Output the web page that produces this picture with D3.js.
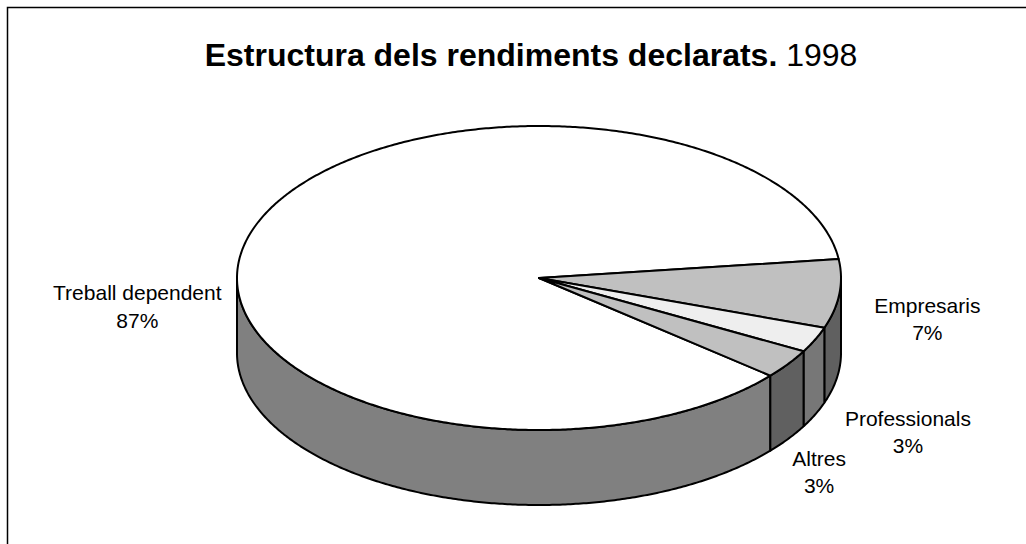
<!DOCTYPE html>
<html>
<head>
<meta charset="utf-8">
<script src="https://cdn.jsdelivr.net/npm/d3@7"></script>
<style>
  body { margin: 0; background: #fff; }
  svg { display: block; font-family: "Liberation Sans", Arial, sans-serif; }
</style>
</head>
<body>
<div id="chart"></div>
<script>
// data
const categories = ["Treball dependent", "Empresaris", "Professionals", "Altres"];
const values = [86.9, 7.3, 2.7, 3.1];
const topColors = ["#ffffff", "#c0c0c0", "#eeeeee", "#c0c0c0"];
const titleBold = "Estructura dels rendiments declarats.";
const titleYear = "1998";

const W = 1026, H = 544;
const cx = 539, cy = 278, rx = 302, ry = 152, depth = 75;
// label placement relative to the rim point at the slice middle
const labelShift = [[-112, 65], [88, 19], [93, 86], [31, 102]];

const svg = d3.select("#chart").append("svg").attr("width", W).attr("height", H);

svg.append("rect")
  .attr("x", 7.5).attr("y", 7.5)
  .attr("width", W + 20).attr("height", H + 20)
  .attr("fill", "#fff").attr("stroke", "#000").attr("stroke-width", 1.5);

const title = svg.append("text")
  .attr("x", 531).attr("y", 66)
  .attr("text-anchor", "middle")
  .attr("font-size", 32);
title.append("tspan").attr("font-weight", "bold").text(titleBold);
title.append("tspan").text(" " + titleYear);

const total = d3.sum(values);
const start = (130 * Math.PI) / 180;
const pie = d3.pie().sort(null).startAngle(start).endAngle(start + 2 * Math.PI);
const arcs = pie(values);

// angle is d3's: clockwise from 12 o'clock
const pt = (a, h = 0) => [cx + rx * Math.sin(a), cy - ry * Math.cos(a) + h];
const arcPts = (a0, a1, h) => {
  const n = Math.max(2, Math.ceil(Math.abs(a1 - a0) / (Math.PI / 360)));
  return d3.range(n + 1).map((i) => pt(a0 + ((a1 - a0) * i) / n, h));
};
const line = d3.line();
const sideColor = (c) => d3.interpolateRgb(c, "#000")(0.5);

// outer walls, only the front half (between 3 and 9 o'clock) shows
const walls = svg.append("g").attr("stroke", "#000").attr("stroke-width", 2).attr("stroke-linejoin", "round");
arcs.forEach((d, i) => {
  [-1, 0, 1].forEach((k) => {
    const lo = Math.max(d.startAngle, Math.PI / 2 + 2 * Math.PI * k);
    const hi = Math.min(d.endAngle, (3 * Math.PI) / 2 + 2 * Math.PI * k);
    if (hi <= lo) return;
    const pts = arcPts(lo, hi, 0).concat(arcPts(hi, lo, depth));
    walls.append("path").attr("d", line(pts) + "Z").attr("fill", sideColor(topColors[i]));
  });
});

// top faces
svg.append("g")
  .attr("stroke", "#000").attr("stroke-width", 2).attr("stroke-linejoin", "round")
  .selectAll("path")
  .data(arcs)
  .join("path")
  .attr("fill", (d, i) => topColors[i])
  .attr("d", (d) => line([[cx, cy]].concat(arcPts(d.startAngle, d.endAngle, 0))) + "Z");

// labels
const labels = svg.append("g").attr("font-size", 21).attr("text-anchor", "middle").attr("fill", "#000");
arcs.forEach((d, i) => {
  const p = pt((d.startAngle + d.endAngle) / 2);
  const x = p[0] + labelShift[i][0];
  const y = p[1] + labelShift[i][1];
  const t = labels.append("text").attr("x", x).attr("y", y);
  t.append("tspan").attr("x", x).text(categories[i]);
  t.append("tspan").attr("x", x).attr("dy", 27.5).text(Math.round((d.value / total) * 100) + "%");
});
</script>
</body>
</html>
